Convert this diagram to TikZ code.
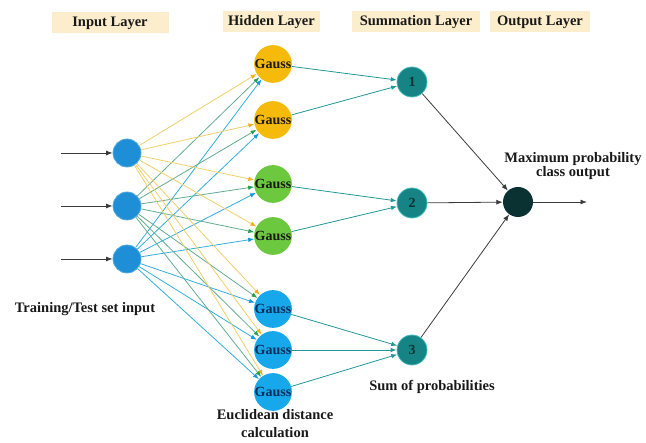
\documentclass[tikz,border=0pt]{standalone}
\usepackage{fontspec}
\setmainfont{Liberation Serif}
\usetikzlibrary{arrows.meta,backgrounds}

\definecolor{headfill}{RGB}{252,238,204}
\definecolor{inblue}{RGB}{30,143,214}
\definecolor{gaussgold}{RGB}{246,186,10}
\definecolor{gaussgreen}{RGB}{108,200,62}
\definecolor{gausscyan}{RGB}{22,168,234}
\definecolor{sumteal}{RGB}{22,132,132}
\definecolor{sumrim}{RGB}{70,190,190}
\definecolor{outdark}{RGB}{10,50,50}
\definecolor{wireyellow}{RGB}{240,208,105}
\definecolor{tipyellow}{RGB}{240,176,30}
\definecolor{wiregreen}{RGB}{100,172,142}
\definecolor{tipgreen}{RGB}{40,160,80}
\definecolor{wirecyan}{RGB}{50,175,220}
\definecolor{tipcyan}{RGB}{25,150,225}
\definecolor{wireteal}{RGB}{35,150,150}
\definecolor{wiregray}{RGB}{60,60,60}
\definecolor{inktext}{RGB}{25,25,25}
\definecolor{navytext}{RGB}{10,45,90}

\begin{document}
\begin{tikzpicture}[x=1pt,y=-1pt,
  lbl/.style={font=\fontsize{14.5}{16}\selectfont\bfseries, text=inktext, inner sep=0pt},
  layerbox/.style={lbl, fill=headfill, minimum height=21pt},
  innode/.style={circle, fill=inblue, draw=inblue!75!white, line width=0.8pt,
                 minimum size=28pt, inner sep=0pt},
  gauss/.style={circle, minimum size=33pt, inner sep=0pt,
                font=\fontsize{14}{16}\selectfont\bfseries, text=inktext},
  sumnode/.style={circle, fill=sumteal, draw=sumrim, line width=0.8pt,
                  minimum size=30pt, inner sep=0pt,
                  font=\fontsize{14}{16}\selectfont\bfseries, text=outdark},
  outnode/.style={circle, fill=outdark, minimum size=30pt, inner sep=0pt},
  wire/.style={line width=0.8pt},
  fromone/.style={wire, draw=wireyellow, -{Latex[length=6pt,width=4.5pt,color=tipyellow]}},
  fromtwo/.style={wire, draw=wiregreen, -{Latex[length=6pt,width=4.5pt,color=tipgreen]}},
  fromthree/.style={wire, draw=wirecyan, -{Latex[length=6pt,width=4.5pt,color=tipcyan]}},
  tosum/.style={wire, draw=wireteal, -{Latex[length=6pt,width=4.5pt]}},
  plain/.style={line width=0.8pt, draw=wiregray, -{Latex[length=6.5pt,width=5pt]}}
]
\useasboundingbox (0,0) rectangle (646,443);

% layer headings
\node[layerbox, minimum width=117pt] (hin)  at (110,23) {Input Layer};
\node[layerbox, minimum width=97pt]  (hhid) at (271.5,22) {Hidden Layer};
\node[layerbox, minimum width=128pt] (hsum) at (416,22) {Summation Layer};
\node[layerbox, minimum width=100pt] (hout) at (540,22) {Output Layer};

% input layer
\node[innode] (i1) at (127,153) {};
\node[innode] (i2) at (127,206) {};
\node[innode] (i3) at (127,259) {};
\coordinate (a1) at (61,153);
\coordinate (a2) at (61,206);
\coordinate (a3) at (61,259);

% hidden (pattern) layer
\node[gauss, fill=gaussgold]  (h1) at (273,64)  {Gauss};
\node[gauss, fill=gaussgold]  (h2) at (273,120) {Gauss};
\node[gauss, fill=gaussgreen] (h3) at (273,184) {Gauss};
\node[gauss, fill=gaussgreen] (h4) at (273,236) {Gauss};
\node[gauss, fill=gausscyan, text=navytext] (h5) at (273,309) {Gauss};
\node[gauss, fill=gausscyan, text=navytext] (h6) at (273,350) {Gauss};
\node[gauss, fill=gausscyan, text=navytext] (h7) at (273,392) {Gauss};

% summation layer
\node[sumnode] (s1) at (412,82)  {1};
\node[sumnode] (s2) at (412,203) {2};
\node[sumnode] (s3) at (412,350) {3};

% output layer
\node[outnode] (o) at (518,202) {};
\coordinate (oend) at (587,202);

% captions
\node[lbl] (tin) at (85,309) {Training/Test set input};
\node[lbl, align=center, font=\fontsize{14.5}{18}\selectfont\bfseries] (teu) at (275,424)
  {Euclidean distance\\calculation};
\node[lbl] (tsum) at (432,387) {Sum of probabilities};
\node[lbl, align=center, font=\fontsize{14.5}{14.5}\selectfont\bfseries] (tmax) at (573,166)
  {Maximum probability\\class output};

% connectors
\begin{scope}[on background layer]
  \foreach \k in {1,...,7} {
    \draw[fromone]   (i1) -- (h\k);
    \draw[fromtwo]   (i2) -- (h\k);
    \draw[fromthree] (i3) -- (h\k);
  }
  \draw[tosum] (h1) -- (s1);
  \draw[tosum] (h2) -- (s1);
  \draw[tosum] (h3) -- (s2);
  \draw[tosum] (h4) -- (s2);
  \draw[tosum] (h5) -- (s3);
  \draw[tosum] (h6) -- (s3);
  \draw[tosum] (h7) -- (s3);
  \draw[plain] (s1) -- (o);
  \draw[plain] (s2) -- (o);
  \draw[plain] (s3) -- (o);
  \draw[plain] (o) -- (oend);
  \draw[plain] (a1) -- (i1);
  \draw[plain] (a2) -- (i2);
  \draw[plain] (a3) -- (i3);
\end{scope}
\end{tikzpicture}
\end{document}
